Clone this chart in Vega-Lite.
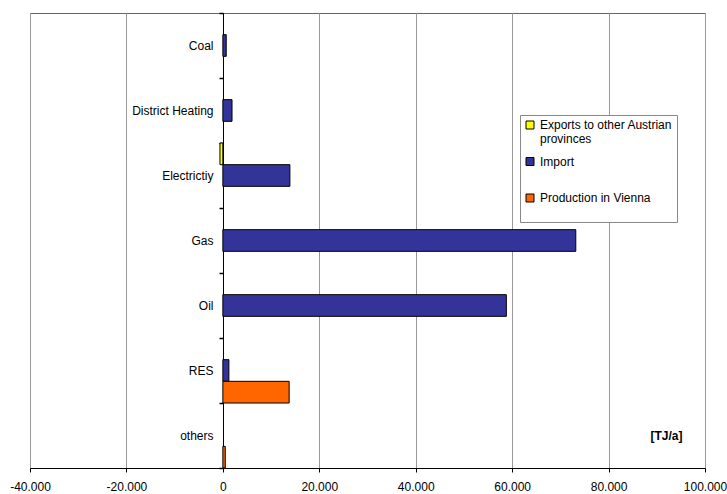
{
  "$schema": "https://vega.github.io/schema/vega-lite/v6.json",
  "width": 675,
  "height": 455,
  "autosize": {"type": "none"},
  "padding": {"left": 30, "top": 13, "right": 22, "bottom": 26},
  "config": {
    "locale": {"number": {"decimal": ",", "thousands": ".", "grouping": [3], "currency": ["", " €"], "minus": "-"}},
    "font": "Liberation Sans",
    "view": {"stroke": "#666", "strokeWidth": 1}
  },
  "layer": [
    {
      "data": {"values": [
        {"carrier": "Coal", "series": "Import", "value": 700},
        {"carrier": "District Heating", "series": "Import", "value": 1900},
        {"carrier": "Electrictiy", "series": "Exports to other Austrian provinces", "value": -600},
        {"carrier": "Electrictiy", "series": "Import", "value": 13900},
        {"carrier": "Gas", "series": "Import", "value": 73200},
        {"carrier": "Oil", "series": "Import", "value": 58800},
        {"carrier": "RES", "series": "Import", "value": 1250},
        {"carrier": "RES", "series": "Production in Vienna", "value": 13750},
        {"carrier": "others", "series": "Production in Vienna", "value": 500}
      ]},
      "mark": {"type": "bar", "stroke": "#000", "strokeWidth": 1},
      "encoding": {
        "y": {
          "field": "carrier", "type": "nominal",
          "sort": ["Coal", "District Heating", "Electrictiy", "Gas", "Oil", "RES", "others"],
          "scale": {"domain": ["Coal", "District Heating", "Electrictiy", "Gas", "Oil", "RES", "others"], "paddingInner": 0, "paddingOuter": 0},
          "axis": {"title": null, "offset": -193, "domain": true, "domainColor": "black", "ticks": true, "tickSize": 4, "tickColor": "black", "tickWidth": 1.5, "tickBand": "extent", "labelPadding": 6, "labelFontSize": 12, "labelColor": "black", "grid": false}
        },
        "yOffset": {
          "field": "series", "type": "nominal",
          "scale": {"domain": ["Exports to other Austrian provinces", "Import", "Production in Vienna"], "paddingInner": 0, "paddingOuter": 0}
        },
        "x": {
          "field": "value", "type": "quantitative",
          "scale": {"domain": [-40000, 100000], "nice": false, "zero": false},
          "axis": {"title": null, "format": ",d", "values": [-40000, -20000, 0, 20000, 40000, 60000, 80000, 100000], "grid": true,
            "gridColor": {"condition": {"test": "datum.value === 0", "value": "black"}, "value": "#999"},
            "domainColor": "black", "tickColor": "black", "tickSize": 4, "labelFontSize": 12, "labelColor": "black", "labelPadding": 9, "labelFlush": false}
        },
        "color": {
          "field": "series", "type": "nominal",
          "scale": {"domain": ["Exports to other Austrian provinces", "Import", "Production in Vienna"], "range": ["#FFFF00", "#333399", "#FF6600"]},
          "legend": {"title": null, "orient": "none", "legendX": 490, "legendY": 102, "strokeColor": "#888", "fillColor": "white", "padding": 4,
            "symbolType": "square", "symbolSize": 64, "symbolStrokeColor": "black", "symbolStrokeWidth": 1, "symbolOpacity": 1,
            "labelFontSize": 12, "labelColor": "black", "labelLimit": 300, "rowPadding": 10.5, "labelOffset": 4, "labelLineHeight": 15,
            "labelExpr": "datum.label == 'Exports to other Austrian provinces' ? ['Exports to other Austrian', 'provinces'] : [datum.label, ' ']"}
        }
      }
    },
    {
      "data": {"values": [{"label": "[TJ/a]", "xpos": 92000, "carrier": "others"}]},
      "mark": {"type": "text", "fontWeight": "bold", "fontSize": 12, "color": "black"},
      "encoding": {
        "x": {"field": "xpos", "type": "quantitative"},
        "y": {"field": "carrier", "type": "nominal"},
        "text": {"field": "label"}
      }
    }
  ]
}
